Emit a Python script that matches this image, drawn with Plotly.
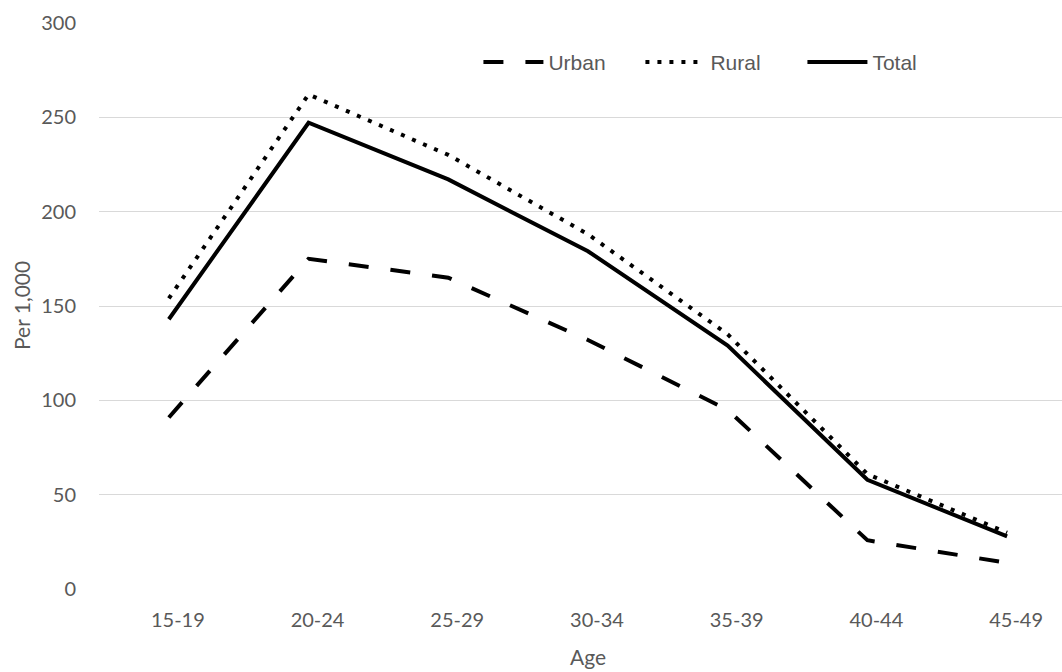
import plotly.graph_objects as go

age_groups = ["15-19", "20-24", "25-29", "30-34", "35-39", "40-44", "45-49"]
urban = [91, 175, 165, 132, 95, 26, 14]
rural = [154, 262, 230, 188, 135, 61, 30]
total = [143, 247, 217, 179, 129, 58, 28]

fig = go.Figure()
fig.add_trace(go.Scatter(x=age_groups, y=urban, name="Urban", mode="lines",
                         line=dict(color="black", width=4, dash="20px,22px")))
fig.add_trace(go.Scatter(x=age_groups, y=rural, name="Rural", mode="lines",
                         line=dict(color="black", width=4, dash="4px,8px")))
fig.add_trace(go.Scatter(x=age_groups, y=total, name="Total", mode="lines",
                         line=dict(color="black", width=4)))

font_family = "Lato, Carlito, Calibri, sans-serif"
tick_font = dict(family=font_family, size=20, color="#595959")

fig.update_layout(
    width=1062, height=672,
    margin=dict(l=99, r=0, t=22, b=82),
    paper_bgcolor="white", plot_bgcolor="white",
    showlegend=True,
    legend=dict(orientation="h", x=0.394, y=0.929, xanchor="left", yanchor="middle",
                font=dict(family="Liberation Sans, Arial, sans-serif", size=21, color="#595959"),
                itemwidth=60, entrywidth=87, entrywidthmode="pixels",
                bgcolor="rgba(0,0,0,0)", traceorder="normal"),
    xaxis=dict(type="category", range=[-0.5, 6.393], showgrid=False, showline=False,
               zeroline=False, ticks="", tickfont=tick_font, ticklabelstandoff=16,
               ticklabelshift=9),
    yaxis=dict(range=[-0.35, 300.35], tickmode="linear", tick0=0, dtick=50,
               showgrid=True, gridcolor="#d9d9d9", gridwidth=1,
               zeroline=False, showline=False, ticks="", tickfont=tick_font,
               ticklabelstandoff=22),
    annotations=[
        dict(text="Per 1,000", textangle=-90, xref="paper", yref="paper",
             x=0, y=0.5, xanchor="center", yanchor="middle", xshift=-78,
             showarrow=False, font=dict(family=font_family, size=21, color="#595959")),
        dict(text="Age", xref="paper", yref="paper",
             x=0.5, y=0, xanchor="center", yanchor="middle", xshift=7, yshift=-66,
             showarrow=False, font=dict(family=font_family, size=21, color="#595959")),
    ],
)

fig.write_html("out.html", config={"displayModeBar": False},
               post_script="document.body.style.margin='0';")
